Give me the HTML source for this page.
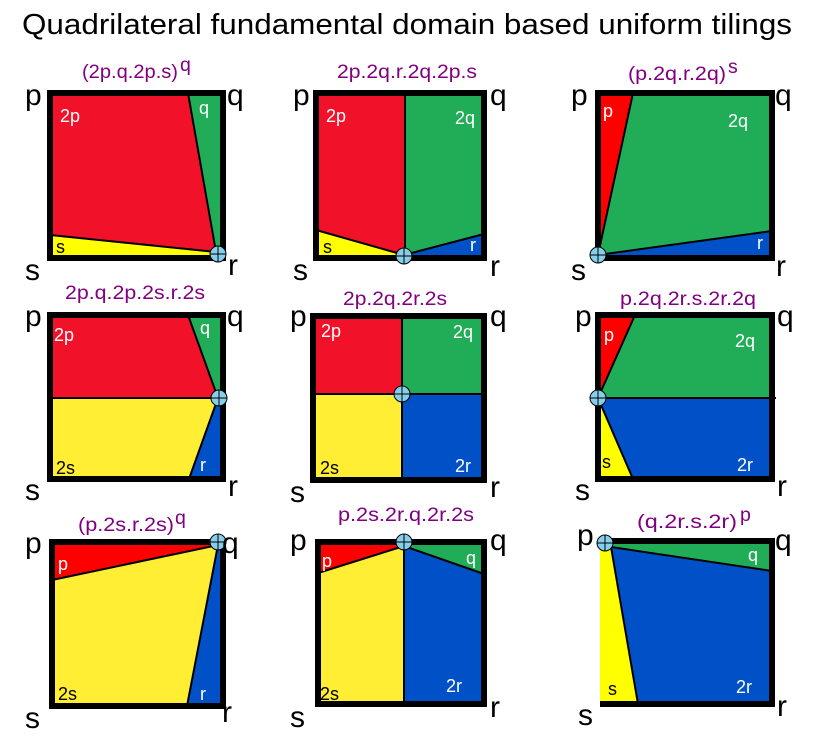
<!DOCTYPE html>
<html><head><meta charset="utf-8"><style>
html,body{margin:0;padding:0;background:#fff;}
svg{display:block;font-family:"Liberation Sans",Arial,sans-serif;}
.c{font-size:30px;fill:#000}
.t{font-size:19.5px;fill:#800080}
.w{font-size:18px;fill:#fff}
.k{font-size:18px;fill:#000}
.ln{stroke:#000;stroke-width:2;fill:none}
.bd{stroke:#000;stroke-width:6;fill:none}
</style></head><body>
<svg width="817" height="745" viewBox="0 0 817 745">
<defs>
<g id="x"><circle r="8" fill="#87ceeb" stroke="#000" stroke-width="1"/><path d="M-8 0H8M0 -8V8" stroke="#000" stroke-width="1"/></g>
</defs>
<rect width="817" height="745" fill="#fff"/>
<text x="22" y="34" font-size="29" textLength="770" lengthAdjust="spacingAndGlyphs">Quadrilateral fundamental domain based uniform tilings</text>

<!-- Panel 1 -->
<rect x="50" y="93" width="173" height="165" fill="#f11129"/>
<polygon points="188,93 223,93 223,255 216,252" fill="#21ad57"/>
<polygon points="50,235 216,252 223,258 50,258" fill="#ffff00"/>
<path class="ln" d="M188,93 L216,252 M50,235 L216,252"/>
<rect class="bd" x="50" y="93" width="173" height="165"/>
<use href="#x" x="218" y="254"/>
<text class="t" x="82" y="78" textLength="96" lengthAdjust="spacingAndGlyphs">(2p.q.2p.s)</text><text class="t" x="180" y="71">q</text>
<text class="w" x="60" y="122">2p</text><text class="w" x="199" y="114">q</text><text class="k" x="56" y="253">s</text>

<!-- Panel 2 -->
<rect x="316" y="93" width="168" height="165" fill="#f11129"/>
<rect x="404" y="93" width="80" height="165" fill="#21ad57"/>
<polygon points="316,230 404,255 316,258" fill="#ffff00"/>
<polygon points="404,255 484,234 484,258 404,258" fill="#0050c8"/>
<path class="ln" d="M316,230 L404,255 L484,234 M405,93 V255"/>
<rect class="bd" x="316" y="93" width="168" height="165"/>
<use href="#x" x="404" y="256"/>
<text class="t" x="337" y="78" textLength="140" lengthAdjust="spacingAndGlyphs">2p.2q.r.2q.2p.s</text>
<text class="w" x="326" y="122">2p</text><text class="w" x="455" y="124">2q</text><text class="k" x="323" y="253">s</text><text class="w" x="470" y="251">r</text>

<!-- Panel 3 -->
<rect x="598" y="93" width="174" height="165" fill="#21ad57"/>
<polygon points="598,93 633,93 598,255" fill="#ff0000"/>
<polygon points="598,255 772,231 772,258 598,258" fill="#0050c8"/>
<path class="ln" d="M633,93 L598,255 L772,231"/>
<rect class="bd" x="598" y="93" width="174" height="165"/>
<use href="#x" x="598" y="255"/>
<text class="t" x="628" y="80" textLength="98" lengthAdjust="spacingAndGlyphs">(p.2q.r.2q)</text><text class="t" x="728" y="73">s</text>
<text class="w" x="603" y="117">p</text><text class="w" x="728" y="127">2q</text><text class="w" x="757" y="249">r</text>

<!-- Panel 4 -->
<rect x="50" y="315" width="173" height="83" fill="#f11129"/>
<rect x="50" y="398" width="173" height="81" fill="#ffee33"/>
<polygon points="188,315 223,315 223,398 218,398" fill="#21ad57"/>
<polygon points="218,398 223,398 223,479 189,479" fill="#0050c8"/>
<path class="ln" d="M188,315 L218,398 L189,479 M50,398 H220"/>
<rect class="bd" x="50" y="315" width="173" height="164"/>
<use href="#x" x="219" y="398"/>
<text class="t" x="65" y="299" textLength="140" lengthAdjust="spacingAndGlyphs">2p.q.2p.2s.r.2s</text>
<text class="w" x="54" y="341">2p</text><text class="w" x="200" y="334">q</text><text class="k" x="56" y="474">2s</text><text class="w" x="200" y="471">r</text>

<!-- Panel 5 -->
<rect x="313" y="316" width="89" height="78" fill="#f11129"/>
<rect x="402" y="316" width="82" height="78" fill="#21ad57"/>
<rect x="313" y="394" width="89" height="86" fill="#ffee33"/>
<rect x="402" y="394" width="82" height="86" fill="#0050c8"/>
<path class="ln" d="M402,316 V480 M313,394 H484"/>
<rect class="bd" x="313" y="316" width="171" height="164"/>
<use href="#x" x="402" y="394"/>
<text class="t" x="343" y="305" textLength="104" lengthAdjust="spacingAndGlyphs">2p.2q.2r.2s</text>
<text class="w" x="321" y="337">2p</text><text class="w" x="453" y="338">2q</text><text class="k" x="320" y="474">2s</text><text class="w" x="455" y="472">2r</text>

<!-- Panel 6 -->
<rect x="598" y="315" width="174" height="83" fill="#21ad57"/>
<rect x="598" y="398" width="174" height="81" fill="#0050c8"/>
<polygon points="598,315 635,315 598,398" fill="#ff0000"/>
<polygon points="598,398 633,479 598,479" fill="#ffff00"/>
<path class="ln" d="M635,315 L598,398 L633,479 M598,398 H776"/>
<path class="bd" d="M598,479 V315 H772 V479 Z"/>
<use href="#x" x="598" y="398"/>
<text class="t" x="620" y="305" textLength="136" lengthAdjust="spacingAndGlyphs">p.2q.2r.s.2r.2q</text>
<text class="w" x="604" y="341">p</text><text class="w" x="735" y="347">2q</text><text class="k" x="602" y="468">s</text><text class="w" x="737" y="471">2r</text>

<!-- Panel 7 -->
<rect x="52" y="542" width="171" height="164" fill="#ffee33"/>
<polygon points="52,542 218,542 218,545 52,580" fill="#ff0000"/>
<polygon points="218,542 223,542 223,706 187,706" fill="#0050c8"/>
<path class="ln" d="M52,580 L218,545 L187,706"/>
<rect class="bd" x="52" y="542" width="171" height="164"/>
<use href="#x" x="218" y="542"/>
<text class="t" x="78" y="531" textLength="96" lengthAdjust="spacingAndGlyphs">(p.2s.r.2s)</text><text class="t" x="175" y="524">q</text>
<text class="w" x="58" y="570">p</text><text class="k" x="58" y="700">2s</text><text class="w" x="200" y="700">r</text>

<!-- Panel 8 -->
<rect x="318" y="542" width="86" height="162" fill="#ffee33"/>
<rect x="404" y="542" width="80" height="162" fill="#0050c8"/>
<polygon points="318,542 404,542 404,546 318,573" fill="#ff0000"/>
<polygon points="404,542 484,542 484,574 404,546" fill="#21ad57"/>
<path class="ln" d="M318,573 L404,546 L484,574 M404,546 V704"/>
<rect class="bd" x="318" y="542" width="166" height="162"/>
<use href="#x" x="404" y="542"/>
<text class="t" x="338" y="521" textLength="136" lengthAdjust="spacingAndGlyphs">p.2s.2r.q.2r.2s</text>
<text class="w" x="322" y="567">p</text><text class="w" x="466" y="564">q</text><text class="k" x="320" y="700">2s</text><text class="w" x="446" y="692">2r</text>

<!-- Panel 9 -->
<rect x="600" y="541" width="172" height="163" fill="#0050c8"/>
<polygon points="600,541 772,541 772,571 611,547" fill="#21ad57"/>
<polygon points="600,541 611,547 638,704 600,704" fill="#ffff00"/>
<path class="ln" d="M772,571 L611,547 L638,704"/>
<path class="bd" d="M600,704 H772 V541 H600"/>
<use href="#x" x="605" y="543"/>
<text class="t" x="637" y="528" textLength="100" lengthAdjust="spacingAndGlyphs">(q.2r.s.2r)</text><text class="t" x="740" y="521">p</text>
<text class="w" x="748" y="561">q</text><text class="k" x="608" y="695">s</text><text class="w" x="736" y="693">2r</text>

<!-- corner letters -->
<g class="c">
<text x="25" y="105">p</text><text x="227" y="105">q</text><text x="25" y="280">s</text><text x="228" y="275">r</text>
<text x="293" y="105">p</text><text x="490" y="105">q</text><text x="293" y="280">s</text><text x="490" y="276">r</text>
<text x="571" y="105">p</text><text x="775" y="105">q</text><text x="571" y="280">s</text><text x="776" y="276">r</text>
<text x="25" y="326">p</text><text x="227" y="326">q</text><text x="25" y="500">s</text><text x="228" y="496">r</text>
<text x="290" y="326">p</text><text x="490" y="326">q</text><text x="290" y="502">s</text><text x="490" y="497">r</text>
<text x="575" y="326">p</text><text x="777" y="326">q</text><text x="575" y="500">s</text><text x="777" y="496">r</text>
<text x="25" y="553">p</text><text x="222" y="553">q</text><text x="25" y="728">s</text><text x="222" y="722">r</text>
<text x="290" y="550">p</text><text x="490" y="550">q</text><text x="290" y="727">s</text><text x="490" y="717">r</text>
<text x="577" y="545">p</text><text x="775" y="550">q</text><text x="578" y="725">s</text><text x="777" y="716">r</text>
</g>
</svg>
</body></html>
